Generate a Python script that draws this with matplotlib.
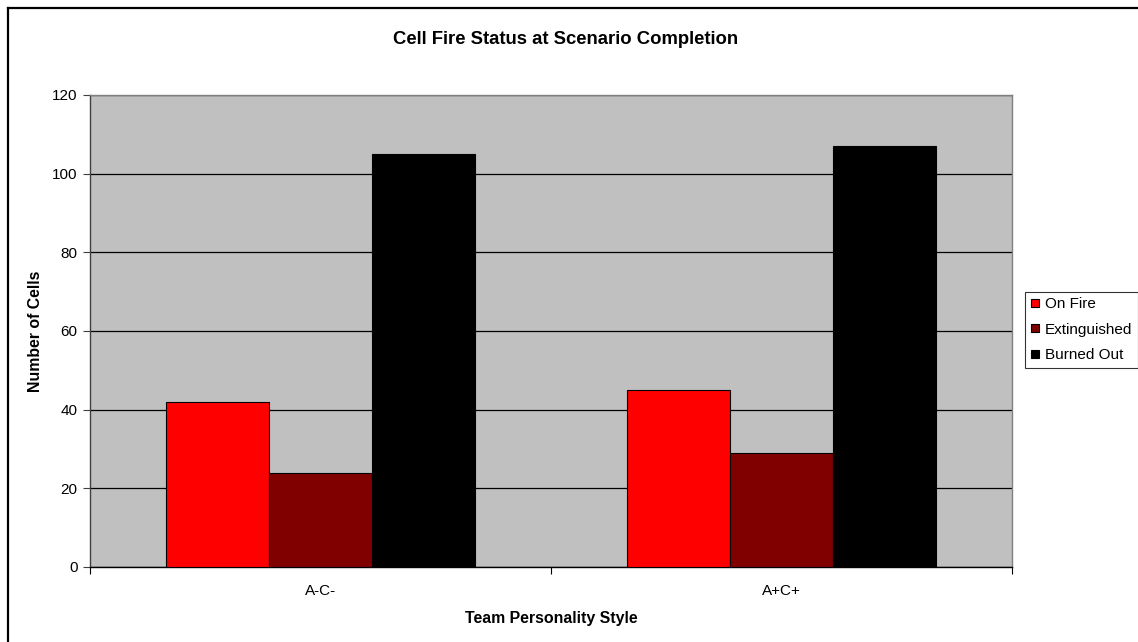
import matplotlib
matplotlib.use("Agg")
import matplotlib.pyplot as plt
import numpy as np
from matplotlib.lines import Line2D

plt.rcParams['font.family'] = ['Liberation Sans', 'DejaVu Sans']

categories = ["A-C-", "A+C+"]
series_names = ["On Fire", "Extinguished", "Burned Out"]
on_fire = [42, 45]
extinguished = [24, 29]
burned_out = [105, 107]
series_colors = ["#FF0000", "#800000", "#000000"]
y_ticks = [0, 20, 40, 60, 80, 100, 120]

W, H = 1138, 642
fig = plt.figure(figsize=(W / 100, H / 100), dpi=100)
fig.patch.set_facecolor("white")

# plot area in pixel coordinates
px_left, px_top, px_right, px_bottom = 90, 95, 1012, 567
ax = fig.add_axes([px_left / W, 1 - px_bottom / H,
                   (px_right - px_left) / W, (px_bottom - px_top) / H])
ax.set_facecolor("#C0C0C0")

x = np.arange(len(categories))
bar_w = 0.2235
all_series = [on_fire, extinguished, burned_out]
for i, (vals, name, col) in enumerate(zip(all_series, series_names, series_colors)):
    ax.bar(x + (i - 1) * bar_w, vals, width=bar_w, color=col,
           edgecolor="black", linewidth=0.8, label=name, zorder=3)

ax.set_xlim(-0.5, len(categories) - 0.5)
ax.set_ylim(0, 120)
ax.set_yticks(y_ticks)
ax.set_yticklabels([str(v) for v in y_ticks], fontsize=11)
ax.yaxis.grid(True, color="black", linewidth=0.9, zorder=1)
ax.set_axisbelow(True)

# category boundary ticks, labels centred on categories
ax.set_xticks([-0.5, 0.5, 1.5])
ax.set_xticklabels(["", "", ""])
ax.set_xticks(x, minor=True)
ax.set_xticklabels(categories, minor=True, fontsize=11)
ax.tick_params(axis="x", which="major", direction="out", length=5, width=0.8, color="black")
ax.tick_params(axis="x", which="minor", length=0, pad=12)
ax.tick_params(axis="y", direction="out", length=5, width=0.8, pad=4, color="#404040")

for side in ["top", "right"]:
    ax.spines[side].set_color("#808080")
    ax.spines[side].set_linewidth(1.0)
ax.spines["left"].set_color("#404040")
ax.spines["bottom"].set_color("black")
ax.spines["left"].set_linewidth(1.0)
ax.spines["bottom"].set_linewidth(1.0)

fig.text(566 / W, 1 - 39 / H, "Cell Fire Status at Scenario Completion",
         ha="center", va="center", fontsize=13.3, fontweight="bold")
fig.text(35 / W, 1 - 331 / H, "Number of Cells", rotation=90,
         ha="center", va="center", fontsize=11.4, fontweight="bold")
fig.text(551 / W, 1 - 619 / H, "Team Personality Style",
         ha="center", va="center", fontsize=11.4, fontweight="bold")

handles = [Line2D([0], [0], marker="s", linestyle="none", markersize=5.5,
                  markerfacecolor=c, markeredgecolor="black", markeredgewidth=0.8)
           for c in series_colors]
leg = fig.legend(handles, series_names, loc="upper left",
                 bbox_to_anchor=(1025 / W, 1 - 292 / H), borderaxespad=0,
                 fontsize=11, frameon=True, fancybox=False, edgecolor="black",
                 handlelength=0.6, handletextpad=0.35, labelspacing=0.75,
                 borderpad=0.35)
leg.get_frame().set_linewidth(0.8)

# outer chart frame (top and left edges)
fig.add_artist(Line2D([8 / W, 1.0], [1 - 8 / H, 1 - 8 / H], color="black",
                      linewidth=1.6, transform=fig.transFigure))
fig.add_artist(Line2D([8 / W, 8 / W], [1 - 8 / H, 0.0], color="black",
                      linewidth=1.6, transform=fig.transFigure))

fig.savefig("out.png", dpi=100)
